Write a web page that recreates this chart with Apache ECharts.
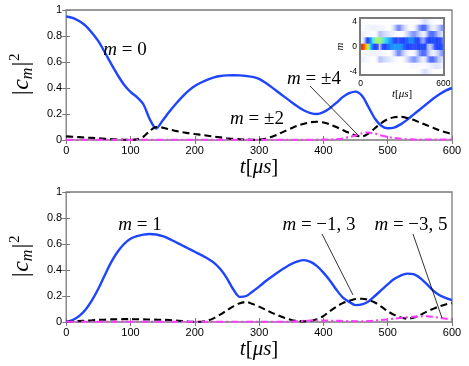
<!DOCTYPE html>
<html>
<head>
<meta charset="utf-8">
<script src="https://cdn.jsdelivr.net/npm/echarts@6/dist/echarts.min.js"></script>
<style>html,body{margin:0;padding:0;background:#fff;}#c{width:469px;height:366px;}</style>
</head>
<body>
<div id="c"></div>
<script>
// time samples (microseconds)
const times = [0,10,20,30,40,50,60,70,80,90,100,110,120,130,140,150,160,170,180,190,200,210,220,230,240,250,260,270,280,290,300,310,320,330,340,350,360,370,380,390,400,410,420,430,440,450,460,470,480,490,500,510,520,530,540,550,560,570,580,590,600];
// top panel
const m0 = [0.95,0.94,0.915,0.88,0.825,0.76,0.675,0.585,0.50,0.425,0.37,0.33,0.275,0.16,0.088,0.15,0.215,0.275,0.33,0.378,0.415,0.442,0.465,0.482,0.492,0.497,0.498,0.497,0.492,0.485,0.47,0.44,0.405,0.367,0.33,0.293,0.258,0.227,0.207,0.20,0.215,0.245,0.285,0.33,0.36,0.372,0.34,0.255,0.165,0.11,0.09,0.095,0.12,0.155,0.195,0.235,0.275,0.315,0.35,0.38,0.40];
const m2 = [0.028,0.025,0.022,0.019,0.016,0.013,0.01,0.007,0.004,0.002,0.002,0.005,0.025,0.07,0.10,0.095,0.082,0.07,0.06,0.053,0.046,0.04,0.033,0.026,0.02,0.014,0.009,0.006,0.003,0.002,0.003,0.01,0.025,0.045,0.068,0.09,0.11,0.125,0.137,0.14,0.135,0.12,0.10,0.077,0.055,0.035,0.027,0.05,0.09,0.13,0.16,0.175,0.178,0.17,0.155,0.135,0.115,0.095,0.075,0.06,0.045];
const m4 = [0.002,0.002,0.002,0.002,0.002,0.002,0.002,0.002,0.002,0.002,0.002,0.002,0.002,0.002,0.002,0.002,0.002,0.002,0.002,0.002,0.002,0.002,0.002,0.002,0.002,0.002,0.002,0.002,0.002,0.002,0.002,0.002,0.002,0.002,0.002,0.002,0.002,0.002,0.002,0.003,0.003,0.004,0.006,0.012,0.022,0.035,0.052,0.058,0.05,0.034,0.023,0.015,0.01,0.007,0.005,0.004,0.004,0.004,0.004,0.004,0.004];
// bottom panel
const m1 = [0,0.015,0.045,0.095,0.167,0.256,0.36,0.46,0.54,0.60,0.64,0.66,0.672,0.677,0.673,0.66,0.64,0.615,0.59,0.565,0.54,0.515,0.488,0.455,0.405,0.335,0.25,0.193,0.2,0.235,0.272,0.313,0.35,0.385,0.417,0.446,0.467,0.476,0.462,0.43,0.38,0.32,0.25,0.19,0.155,0.13,0.135,0.158,0.2,0.245,0.29,0.33,0.357,0.372,0.368,0.34,0.295,0.245,0.207,0.185,0.168];
const m13 = [0.002,0.004,0.007,0.01,0.013,0.016,0.018,0.02,0.021,0.022,0.022,0.021,0.02,0.019,0.018,0.017,0.015,0.012,0.008,0.004,0.002,0.002,0.01,0.03,0.058,0.09,0.12,0.145,0.154,0.138,0.118,0.095,0.07,0.05,0.03,0.016,0.008,0.005,0.008,0.022,0.045,0.083,0.117,0.145,0.163,0.177,0.179,0.17,0.15,0.118,0.083,0.055,0.035,0.026,0.032,0.052,0.078,0.10,0.12,0.135,0.145];
const m35 = [0.002,0.002,0.002,0.002,0.002,0.002,0.002,0.002,0.002,0.002,0.002,0.002,0.002,0.002,0.002,0.002,0.002,0.002,0.002,0.002,0.002,0.002,0.002,0.002,0.002,0.002,0.002,0.002,0.002,0.002,0.002,0.002,0.002,0.002,0.002,0.003,0.006,0.009,0.011,0.012,0.011,0.01,0.009,0.008,0.007,0.006,0.006,0.007,0.01,0.015,0.02,0.026,0.031,0.036,0.04,0.043,0.044,0.04,0.033,0.026,0.02];
// inset rows (m = -4 .. 4)
const mRows = ['-4','-3','-2','-1','0','1','2','3','4'];
const rowSeries = [m4, m35, m2, m13, m0, m1, m2, m13, m4];
const xTicks = [0,100,200,300,400,500,600];
const yTicks = [0,0.2,0.4,0.6,0.8,1];

const BLUE = '#1f45fc', BLACK = '#000', MAG = '#ff3cff';
const serif = '"Liberation Serif", "DejaVu Serif", serif';
const sans = '"Liberation Sans", Arial, Helvetica, sans-serif';
const FRAME = '#7a7a7a';

const pairs = arr => times.map((t,i)=>[t, arr[i]]);
const heat = [];
rowSeries.forEach((arr, r) => arr.forEach((v, c) => heat.push([c, r, v])));

const yName = {
  name: '{a||c}{sub|m}{a||}{sup|2}',
  nameLocation: 'middle', nameRotate: 90, nameGap: 19,
  nameTextStyle: { rich: {
    a: { fontFamily: serif, fontSize: 24, fontStyle: 'italic', lineHeight: 26, color: '#000' },
    sub: { fontFamily: serif, fontSize: 16, fontStyle: 'italic', lineHeight: 16, padding: [12,0,0,0], color: '#000' },
    sup: { fontFamily: serif, fontSize: 15, lineHeight: 15, padding: [0,0,13,0], color: '#000' }
  }}
};
const xName = {
  name: '{i|t}{r|[}{i|μs}{r|]}',
  nameLocation: 'middle', nameGap: 15,
  nameTextStyle: { rich: {
    i: { fontFamily: serif, fontSize: 21, fontStyle: 'italic', color: '#000' },
    r: { fontFamily: serif, fontSize: 21, color: '#000' }
  }}
};

function mainX(g) {
  return [Object.assign({
    gridIndex: g, type: 'value', min: 0, max: 600, interval: 100,
    axisLine: { show: false }, splitLine: { show: false },
    axisTick: { inside: true, length: 4, lineStyle: { color: FRAME } },
    axisLabel: { color: '#000', fontFamily: sans, fontSize: 11, margin: 5 }
  }, xName), {
    gridIndex: g, type: 'value', min: 0, max: 600, interval: 100, position: 'top',
    axisLine: { show: false }, splitLine: { show: false }, axisLabel: { show: false },
    axisTick: { inside: true, length: 4, lineStyle: { color: FRAME } }
  }];
}
function mainY(g) {
  return [Object.assign({
    gridIndex: g, type: 'value', min: 0, max: 1, interval: 0.2,
    axisLine: { show: false }, splitLine: { show: false },
    axisTick: { inside: true, length: 4, lineStyle: { color: FRAME } },
    axisLabel: { color: '#000', fontFamily: sans, fontSize: 11, margin: 4 }
  }, yName), {
    gridIndex: g, type: 'value', min: 0, max: 1, interval: 0.2, position: 'right',
    axisLine: { show: false }, splitLine: { show: false }, axisLabel: { show: false },
    axisTick: { inside: true, length: 4, lineStyle: { color: FRAME } }
  }];
}

function line(name, arr, xi, yi, color, type, width, z) {
  return { name, type: 'line', xAxisIndex: xi, yAxisIndex: yi, data: pairs(arr),
    showSymbol: false, smooth: 0.3, z: z, animation: false,
    lineStyle: { color, type, width } };
}

const chart = echarts.init(document.getElementById('c'), null, { renderer: 'canvas' });
const txt = (x, y, parts, size) => ({
  type: 'text', x, y, z: 50,
  style: { text: parts, align: 'center', verticalAlign: 'middle',
    rich: {
      i: { fontFamily: serif, fontStyle: 'italic', fontSize: size, fill: '#000' },
      r: { fontFamily: serif, fontSize: size, fill: '#000' }
    } }
});
const ln = (x1,y1,x2,y2) => ({ type: 'line', z: 50, shape: { x1, y1, x2, y2 }, style: { stroke: '#000', lineWidth: 0.8 } });

chart.setOption({
  backgroundColor: '#fff',
  animation: false,
  grid: [
    { left: 57, top: 10, width: 395, height: 130, show: true, borderColor: FRAME, borderWidth: 1.3, backgroundColor: 'transparent' },
    { left: 57, top: 192, width: 395, height: 130, show: true, borderColor: FRAME, borderWidth: 1.3, backgroundColor: 'transparent' },
    { left: 360, top: 18, width: 84, height: 57, show: true, borderColor: 'transparent', borderWidth: 0, backgroundColor: '#fff', z: 10 }
  ],
  xAxis: [...mainX(0), ...mainX(1), {
    gridIndex: 2, type: 'category', data: times.map(String), z: 10,
    axisLine: { show: false }, axisTick: { show: false }, splitLine: { show: false },
    axisLabel: { interval: (i) => i === 0 || i === times.length - 1, color: '#000', fontFamily: sans, fontSize: 8.5, margin: 4 },
    name: '{i|t}{r|[}{i|μs}{r|]}', nameLocation: 'middle', nameGap: 3,
    nameTextStyle: { rich: {
      i: { fontFamily: serif, fontSize: 11, fontStyle: 'italic', color: '#000' },
      r: { fontFamily: serif, fontSize: 11, color: '#000' } } }
  }],
  yAxis: [...mainY(0), ...mainY(1), {
    gridIndex: 2, type: 'category', data: mRows, z: 10,
    axisLine: { show: false }, axisTick: { show: false }, splitLine: { show: false },
    axisLabel: { interval: (i) => i % 4 === 0, color: '#000', fontFamily: sans, fontSize: 8.5, margin: 3 },
    name: 'm', nameLocation: 'middle', nameRotate: 90, nameGap: 10,
    nameTextStyle: { fontFamily: serif, fontStyle: 'italic', fontSize: 11, color: '#000' }
  }],
  visualMap: {
    show: false, seriesIndex: 6, min: 0, max: 1, dimension: 2,
    inRange: { color: ['#ffffff','#b8c4ff','#3050ff','#1f3dff','#1f5aff','#1a9cff','#40e0ff','#c0ff40','#ffd000','#ff5000','#d00000'] }
  },
  series: [
    line('m0', m0, 0, 0, BLUE, 'solid', 2.4, 3),
    line('m2', m2, 0, 0, BLACK, [7,4], 2.1, 4),
    line('m4', m4, 0, 0, MAG, [7,3,2,3], 2.1, 5),
    line('m1', m1, 2, 2, BLUE, 'solid', 2.4, 3),
    line('m13', m13, 2, 2, BLACK, [7,4], 2.1, 4),
    line('m35', m35, 2, 2, MAG, [7,3,2,3], 2.1, 5),
    { type: 'heatmap', xAxisIndex: 4, yAxisIndex: 4, data: heat, z: 11, animation: false }
  ],
  graphic: [
    { type: 'rect', z: 60, shape: { x: 360, y: 18, width: 84, height: 57 }, style: { fill: 'none', stroke: FRAME, lineWidth: 2 } },
    txt(125, 50, '{i|m}{r| = 0}', 19),
    txt(257, 119, '{i|m}{r| = ±2}', 19),
    txt(314, 79, '{i|m}{r| = ±4}', 19),
    ln(310, 86, 358, 135),
    txt(140, 225, '{i|m}{r| = 1}', 19),
    txt(319, 225, '{i|m}{r| = −1, 3}', 19),
    txt(411, 225, '{i|m}{r| = −3, 5}', 19),
    ln(322, 234, 353, 295),
    ln(413, 234, 442, 318)
  ]
});
</script>
</body>
</html>
